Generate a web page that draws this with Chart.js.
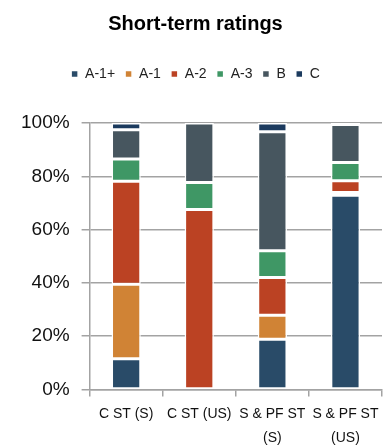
<!DOCTYPE html>
<html>
<head>
<meta charset="utf-8">
<script src="https://cdn.jsdelivr.net/npm/chart.js@4.4.1/dist/chart.umd.min.js"></script>
<style>
html,body{margin:0;padding:0;background:#fff;overflow:hidden;}
#wrap{position:absolute;left:0;top:0;width:410px;height:445px;}
</style>
</head>
<body>
<div id="wrap"><canvas id="c" width="410" height="445"></canvas></div>
<script>
const categories = [["C ST (S)"], ["C ST (US)"], ["S & PF ST", "(S)"], ["S & PF ST", "(US)"]];
const seriesNames = ["A-1+", "A-1", "A-2", "A-3", "B", "C"];
const a1plus = [11.5, 0, 18.8, 72.9];
const a1 = [28, 0, 9, 1];
const a2 = [38.6, 67.5, 14.2, 4.4];
const a3 = [8.4, 10.2, 10, 6.9];
const b = [11, 22.3, 44.7, 14.2];
const c = [2.5, 0, 3.3, 0.6];
const yTicks = [0, 20, 40, 60, 80, 100];

const colors = ["#294b68", "#d08335", "#bb4223", "#3f9765", "#47565f", "#1b3a5e"];
const seriesValues = [a1plus, a1, a2, a3, b, c];
const FONT = "'Liberation Sans', Arial, sans-serif";
const gridColor = "#a3a3a3";

const legendPad = {
  id: 'legendPad',
  afterInit(chart) {
    const lg = chart.legend;
    if (!lg) return;
    const fit = lg.fit;
    lg.fit = function () { fit.call(this); this.height += 32; };
  }
};

new Chart(document.getElementById('c'), {
  type: 'bar',
  data: {
    labels: categories,
    datasets: seriesNames.map((n, i) => ({
      label: n,
      data: seriesValues[i],
      backgroundColor: colors[i],
      borderColor: '#ffffff',
      borderWidth: 1.5,
      borderSkipped: false,
      barPercentage: 0.4,
      categoryPercentage: 1
    }))
  },
  options: {
    responsive: false,
    animation: false,
    layout: { padding: { left: 9, right: 28, top: 0, bottom: -11 } },
    plugins: {
      title: {
        display: true,
        text: 'Short-term ratings',
        color: '#000',
        font: { family: FONT, size: 20, weight: 'bold' },
        padding: { top: 12, bottom: 21 }
      },
      legend: {
        display: true,
        position: 'top',
        labels: {
          color: '#222',
          font: { family: FONT, size: 14 },
          boxWidth: 7,
          boxHeight: 7,
          padding: 10
        }
      },
      tooltip: { enabled: false }
    },
    scales: {
      x: {
        stacked: true,
        grid: { offset: true, drawOnChartArea: false, color: gridColor, lineWidth: 1.5, tickLength: 7 },
        border: { display: true, color: gridColor, width: 1.5 },
        ticks: { color: '#111', font: { family: FONT, size: 14, lineHeight: 1.7 }, maxRotation: 0, autoSkip: false, padding: 6 }
      },
      y: {
        stacked: true,
        min: 0,
        max: 100,
        afterBuildTicks(axis) { axis.ticks = yTicks.map(v => ({ value: v })); },
        grid: { color: gridColor, lineWidth: 1.5, tickLength: 8 },
        border: { display: true, color: gridColor, width: 1.5 },
        ticks: { color: '#111', font: { family: FONT, size: 19 }, padding: 12, callback: v => v + '%' }
      }
    }
  },
  plugins: [legendPad]
});
</script>
</body>
</html>
